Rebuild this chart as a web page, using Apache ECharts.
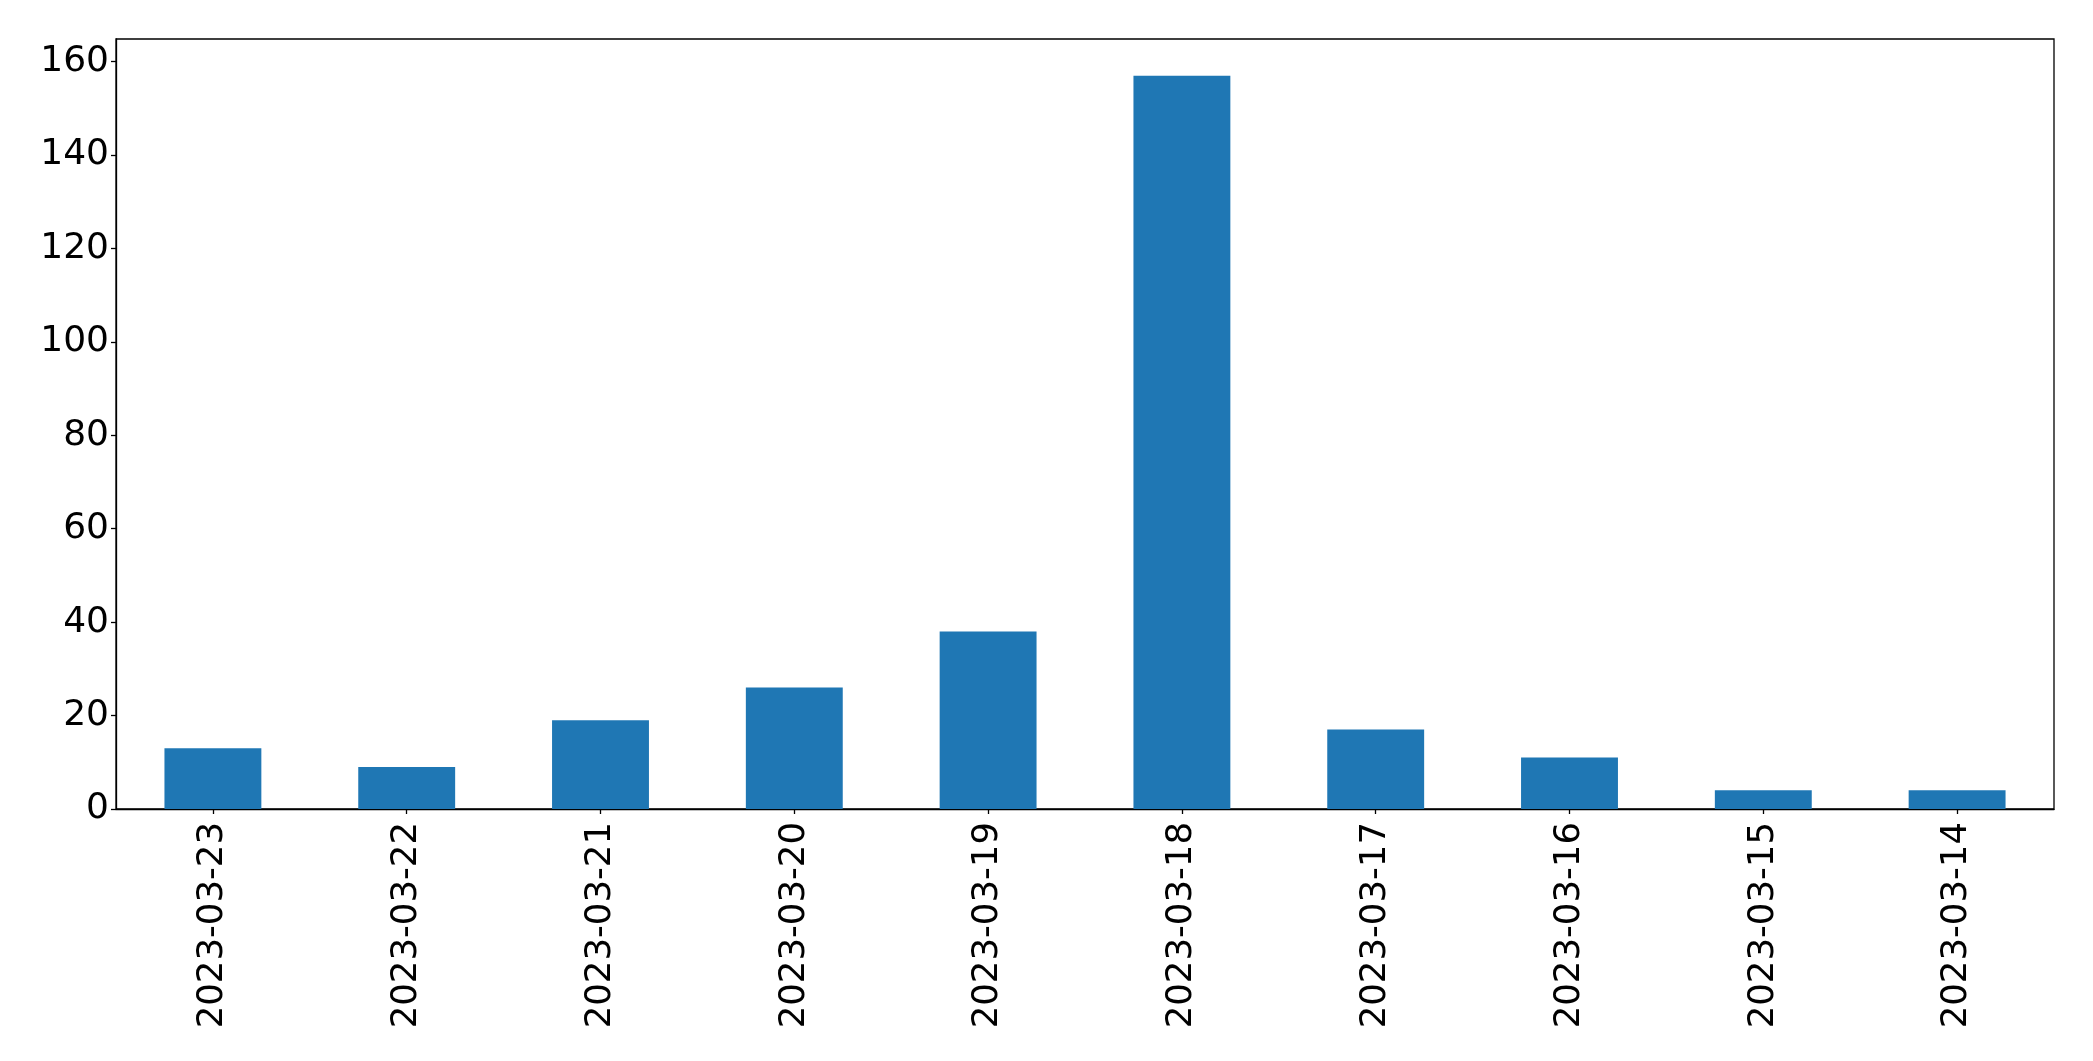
<!DOCTYPE html>
<html>
<head>
<meta charset="utf-8">
<script src="https://cdn.jsdelivr.net/npm/echarts@6/dist/echarts.min.js"></script>
<style>
html,body{margin:0;padding:0;background:#fff;}
#chart{width:2093px;height:1061px;}
</style>
</head>
<body>
<div id="chart"></div>
<script>
const categories = ['2023-03-23','2023-03-22','2023-03-21','2023-03-20','2023-03-19','2023-03-18','2023-03-17','2023-03-16','2023-03-15','2023-03-14'];
const values = [13, 9, 19, 26, 38, 157, 17, 11, 4, 4];
const yMax = 164.85;
const yInterval = 20;

const chart = echarts.init(document.getElementById('chart'), null, {renderer: 'canvas'});
const font = '"DejaVu Sans", sans-serif';
chart.setOption({
  animation: false,
  backgroundColor: '#ffffff',
  grid: {
    left: 116, right: 39, top: 39, bottom: 252,
    show: true, borderColor: '#000', borderWidth: 1.3, backgroundColor: 'transparent'
  },
  xAxis: {
    type: 'category',
    data: categories,
    boundaryGap: true,
    axisLine: {show: true, lineStyle: {color: '#000', width: 1.3}},
    axisTick: {show: true, alignWithLabel: true, length: 5, lineStyle: {color: '#000', width: 1.3}},
    axisLabel: {rotate: 90, color: '#000', fontFamily: font, fontSize: 35.5, margin: 13, interval: 0},
    splitLine: {show: false}
  },
  yAxis: {
    type: 'value',
    min: 0, max: yMax, interval: yInterval,
    axisLine: {show: true, lineStyle: {color: '#000', width: 1.3}},
    axisTick: {show: true, length: 5, lineStyle: {color: '#000', width: 1.3}},
    axisLabel: {
      color: '#000', fontFamily: font, fontSize: 36, margin: 7,
      showMaxLabel: false,
      formatter: v => (Math.abs(v / yInterval - Math.round(v / yInterval)) < 1e-6 ? String(Math.round(v)) : '')
    },
    splitLine: {show: false}
  },
  series: [{
    type: 'bar',
    data: values,
    barWidth: '50%',
    itemStyle: {color: '#1f77b4'}
  }]
});
</script>
</body>
</html>
